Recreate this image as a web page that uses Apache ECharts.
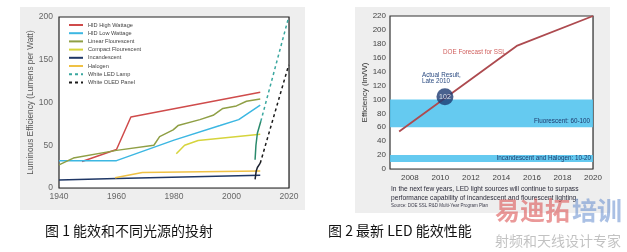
<!DOCTYPE html>
<html><head><meta charset="utf-8">
<script src="https://cdn.jsdelivr.net/npm/echarts@6/dist/echarts.min.js"></script>
<style>html,body{margin:0;padding:0;background:#fff}#c{width:627px;height:252px}</style>
</head><body><div id="c"></div>
<script>
// ---------- Figure 1 data ----------
const hidHighYears = [1948, 1960, 1965, 2010];
const hidHighVals  = [31, 45, 83, 112];
const hidLowYears  = [1940, 1960, 1980, 1996, 2002.5, 2010];
const hidLowVals   = [32, 32, 56, 73, 80, 97];
const linFluorYears = [1940, 1945, 1960, 1973, 1975, 1979.7, 1981.4, 1989, 1993.6, 1997, 2001.7, 2005.2, 2010];
const linFluorVals  = [27, 35, 44, 50, 60, 68, 73, 80, 85, 93, 96, 101.5, 104];
const cflYears = [1980.8, 1983.7, 1988.4, 2010];
const cflVals  = [40, 50, 55.5, 63];
const incYears = [1940, 1960, 2010];
const incVals  = [9.5, 11, 15];
const halYears = [1959.5, 1969, 2010];
const halVals  = [12, 18, 20];
const ledYears = [2010.2, 2019.9];
const ledVals  = [78, 200];
const ledActualYears = [2008.2, 2008.5, 2009, 2010.2];
const ledActualVals  = [33, 50, 64, 78];
const oledYears = [2010, 2019.9];
const oledVals  = [29, 144];
const oledActualYears = [2008.2, 2008.6, 2009, 2010];
const oledActualVals  = [10, 20, 24, 29];
const legendNames = ['HID High Wattage','HID Low Wattage','Linear Flourescent','Compact Flourescent','Incandescent','Halogen','White LED Lamp','White OLED Panel'];

// ---------- Figure 2 data ----------
const doeYears = [2007.3, 2015, 2020];
const doeVals  = [54, 177, 220];
const actualPoint = [2010.3, 104];
const actualLabel = '102';
const fluorBand = [60, 100];
const incBand = [10, 20];
const xTicksR = [2008, 2010, 2012, 2014, 2016, 2018, 2020];

const pairs = (xs, ys) => xs.map((x, i) => [x, ys[i]]);
const FONT = 'Liberation Sans';
const plain = v => String(v);

function line(name, xs, ys, color, dashed, width) {
  return {
    name, type: 'line', xAxisIndex: 0, yAxisIndex: 0, data: pairs(xs, ys),
    symbol: 'none', silent: true, animation: false,
    lineStyle: { color, width: width || 1.5, type: dashed ? [3, 3] : 'solid' },
    itemStyle: { color }
  };
}

const chart = echarts.init(document.getElementById('c'), null, { renderer: 'canvas' });
chart.setOption({
  animation: false,
  backgroundColor: '#ffffff',
  textStyle: { fontFamily: FONT },
  grid: [
    { left: 59, top: 17, width: 230, height: 171, show: true, backgroundColor: '#ffffff', borderColor: '#222', borderWidth: 1.2, z: 1 },
    { left: 390, top: 16, width: 203, height: 153, show: true, backgroundColor: '#ffffff', borderColor: '#333', borderWidth: 1.2, z: 1 }
  ],
  legend: {
    data: legendNames, orient: 'vertical', left: 68, top: 22, padding: 0,
    itemWidth: 14, itemHeight: 6, itemGap: 2.2, selectedMode: false,
    itemStyle: { opacity: 0 },
    textStyle: { fontSize: 5.6, color: '#444', fontFamily: FONT }
  },
  xAxis: [
    { gridIndex: 0, type: 'value', min: 1940, max: 2020, interval: 20,
      axisLine: { show: false }, axisTick: { show: false },
      axisLabel: { fontSize: 8.5, color: '#666', margin: 4, formatter: plain },
      splitLine: { show: true, lineStyle: { color: '#cfcfcf', width: 1 } } },
    { gridIndex: 1, type: 'value', min: 2006.7, max: 2020,
      axisLine: { show: false },
      axisTick: { show: false, customValues: xTicksR },
      axisLabel: { fontSize: 8, color: '#444', margin: 5, customValues: xTicksR, formatter: plain },
      splitLine: { show: true, lineStyle: { color: '#cfcfcf', width: 1 } } }
  ],
  yAxis: [
    { gridIndex: 0, type: 'value', min: 0, max: 200, interval: 50,
      name: 'Luminous Efficiency (Lumens per Watt)', nameLocation: 'middle', nameGap: 21,
      nameTextStyle: { fontSize: 8.3, color: '#555' },
      axisLine: { show: false }, axisTick: { show: false },
      axisLabel: { fontSize: 8.5, color: '#666', margin: 6 },
      splitLine: { show: true, lineStyle: { color: '#cfcfcf', width: 1 } } },
    { gridIndex: 1, type: 'value', min: 0, max: 220, interval: 20,
      name: 'Efficiency (lm/W)', nameLocation: 'middle', nameGap: 20,
      nameTextStyle: { fontSize: 8, color: '#333' },
      axisLine: { show: false }, axisTick: { show: false },
      axisLabel: { fontSize: 8, color: '#444', margin: 4 },
      splitLine: { show: true, lineStyle: { color: '#cfcfcf', width: 1 } } }
  ],
  series: [
    line('HID High Wattage', hidHighYears, hidHighVals, '#cf4b4b'),
    line('HID Low Wattage', hidLowYears, hidLowVals, '#3cb7e2'),
    line('Linear Flourescent', linFluorYears, linFluorVals, '#8f9f45'),
    line('Compact Flourescent', cflYears, cflVals, '#d6d43c'),
    line('Incandescent', incYears, incVals, '#1f3766'),
    line('Halogen', halYears, halVals, '#efc145'),
    line('White LED Lamp', ledYears, ledVals, '#3aa79f', true),
    line('White OLED Panel', oledYears, oledVals, '#1a1a1a', true),
    line('White LED Lamp', ledActualYears, ledActualVals, '#2a8a6c', false),
    line('White OLED Panel', oledActualYears, oledActualVals, '#1a2030', false),
    {
      name: 'DOE Forecast for SSL', type: 'line', xAxisIndex: 1, yAxisIndex: 1,
      data: pairs(doeYears, doeVals), symbol: 'none', silent: true, z: 3,
      lineStyle: { color: '#ad4a4f', width: 1.8 },
      markArea: {
        silent: true,
        itemStyle: { color: 'rgba(84,196,238,0.9)' },
        label: { show: true, position: 'insideBottomRight', fontSize: 6.3, color: '#1d3a6c', distance: 3, fontFamily: FONT },
        data: [
          [{ yAxis: fluorBand[0], name: 'Fluorescent: 60-100' }, { yAxis: fluorBand[1] }],
          [{ yAxis: incBand[0], name: 'Incandescent and Halogen: 10-20', label: { position: 'insideRight', distance: 2 } }, { yAxis: incBand[1] }]
        ]
      }
    },
    {
      name: 'Actual', type: 'scatter', xAxisIndex: 1, yAxisIndex: 1, z: 5,
      data: [actualPoint], symbolSize: 17, silent: true,
      itemStyle: { color: '#1c3a72' },
      label: { show: true, position: 'inside', formatter: actualLabel, color: '#fff', fontSize: 7, fontFamily: FONT }
    }
  ],
  graphic: [
    { type: 'rect', z: -100, silent: true, shape: { x: 20, y: 7, width: 285, height: 203 }, style: { fill: '#eeeeee' } },
    { type: 'rect', z: -100, silent: true, shape: { x: 355, y: 7, width: 255, height: 206 }, style: { fill: '#eeeeee' } },
    { type: 'text', z: 50, left: 443, top: 49, style: { text: 'DOE Forecast for SSL', fontSize: 6.3, fill: '#d0605e', fontFamily: FONT } },
    { type: 'text', z: 50, left: 422, top: 72, style: { text: 'Actual Result,\nLate 2010', fontSize: 6.3, lineHeight: 6.5, fill: '#2a4a80', fontFamily: FONT } },
    { type: 'text', z: 50, left: 391, top: 186, style: { text: 'In the next few years, LED light sources will continue to surpass', fontSize: 6.65, fill: '#2b2b3a', fontFamily: FONT } },
    { type: 'text', z: 50, left: 391, top: 194.5, style: { text: 'performance capability of incandescent and flourescent lighting.', fontSize: 6.65, fill: '#2b2b3a', fontFamily: FONT } },
    { type: 'text', z: 50, left: 391, top: 203, style: { text: 'Source: DOE SSL R&D Multi-Year Program Plan', fontSize: 4.5, fill: '#3a3a4a', fontFamily: FONT } },
    { type: 'text', z: 50, left: 45, top: 224, style: { text: '图 1 能效和不同光源的投射', fontSize: 14, fill: '#111', fontFamily: 'Noto Sans CJK SC' } },
    { type: 'text', z: 50, left: 328, top: 224, style: { text: '图 2 最新 LED 能效性能', fontSize: 14, fill: '#111', fontFamily: 'Noto Sans CJK SC' } },
    { type: 'text', z: 60, left: 495, top: 198, style: { text: '易迪拓', fontSize: 25, fontWeight: 'bold', fill: 'rgba(220,85,85,0.6)', fontFamily: 'Noto Sans CJK SC' } },
    { type: 'text', z: 60, left: 572, top: 198, style: { text: '培训', fontSize: 25, fontWeight: 'bold', fill: 'rgba(100,140,205,0.55)', fontFamily: 'Noto Sans CJK SC' } },
    { type: 'text', z: 60, left: 495, top: 234, style: { text: '射频和天线设计专家', fontSize: 14, fill: 'rgba(120,120,120,0.45)', fontFamily: 'Noto Sans CJK SC' } }
  ]
});
</script>
</body></html>
